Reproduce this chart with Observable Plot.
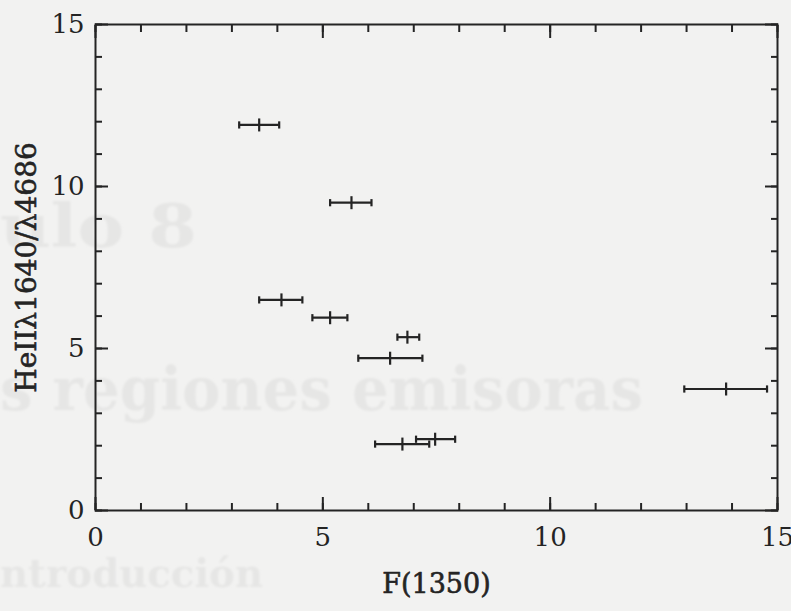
<!DOCTYPE html>
<html>
<head>
<meta charset="utf-8">
<script src="https://cdn.jsdelivr.net/npm/d3@7"></script>
<script src="https://cdn.jsdelivr.net/npm/@observablehq/plot@0.6"></script>
<style>
  html, body { margin: 0; padding: 0; background: #f2f2f1; }
  #wrap { position: relative; width: 791px; height: 611px; overflow: hidden; }
  #ghost, #chart { position: absolute; left: 0; top: 0; }
</style>
</head>
<body>
<div id="wrap">
  <svg id="ghost" width="791" height="611"></svg>
  <div id="chart"></div>
</div>
<script>
// Axis titles and tick positions
const xTitle = "F(1350)";
const yTitle = "HeIIλ1640/λ4686";
const xMajorTicks = [0, 5, 10, 15];
const yMajorTicks = [0, 5, 10, 15];
const minorTicks = d3.range(0, 16);

// Measurements: F(1350) with its lower/upper error limits, and the line ratio
const flux     = [3.60, 5.63, 4.09, 5.16, 6.86, 6.48, 6.75, 7.47, 13.87];
const fluxLow  = [3.16, 5.16, 3.60, 4.77, 6.64, 5.78, 6.15, 7.05, 12.95];
const fluxHigh = [4.04, 6.07, 4.55, 5.54, 7.12, 7.19, 7.34, 7.91, 14.77];
const ratio    = [11.9, 9.5, 6.5, 5.95, 5.35, 4.7, 2.05, 2.2, 3.75];

// Faint print showing through from the facing page
const ghostLines = ["ulo 8", "s regiones emisoras", "ntroducción"];

const rows = flux.map((x, i) => ({x, lo: fluxLow[i], hi: fluxHigh[i], y: ratio[i]}));

const ink = "#242424";
const serif = "DejaVu Serif";

// Short vertical bar used for error-bar caps and the central marker
const vbar = {
  draw(context, size) {
    const h = Math.sqrt(size / Math.PI);
    context.moveTo(0, -h);
    context.lineTo(0, h);
  }
};

// Inward ticks on all four sides
function ticks(axis, anchor, values, size) {
  return axis({anchor, ticks: values, tickSize: -size, tickFormat: () => "",
    label: null, stroke: ink, strokeWidth: 2});
}

// Slightly heavy lettering
const letter = {fill: ink, stroke: ink, strokeWidth: 0.6};

const chart = Plot.plot({
  width: 791,
  height: 611,
  marginLeft: 95,
  marginRight: 14,
  marginTop: 24,
  marginBottom: 101,
  style: {background: "transparent", fontFamily: serif, color: ink},
  x: {domain: [0, 15]},
  y: {domain: [0, 15]},
  marks: [
    ticks(Plot.axisX, "bottom", minorTicks, 7),
    ticks(Plot.axisX, "top", minorTicks, 7),
    ticks(Plot.axisY, "left", minorTicks, 7),
    ticks(Plot.axisY, "right", minorTicks, 7),
    ticks(Plot.axisX, "bottom", xMajorTicks, 13),
    ticks(Plot.axisX, "top", xMajorTicks, 13),
    ticks(Plot.axisY, "left", yMajorTicks, 13),
    ticks(Plot.axisY, "right", yMajorTicks, 13),
    Plot.axisX({anchor: "bottom", ticks: xMajorTicks, tickSize: 0, tickPadding: 17,
      label: null, fontSize: 26, ...letter}),
    Plot.axisY({anchor: "left", ticks: yMajorTicks, tickSize: 0, tickPadding: 11,
      label: null, fontSize: 26, ...letter}),
    Plot.frame({stroke: ink, strokeWidth: 2}),
    Plot.ruleY(rows, {x1: "lo", x2: "hi", y: "y", stroke: ink, strokeWidth: 2.2}),
    Plot.dot(rows, {x: "lo", y: "y", symbol: vbar, r: 3.6, stroke: ink, strokeWidth: 2.2, fill: "none"}),
    Plot.dot(rows, {x: "hi", y: "y", symbol: vbar, r: 3.6, stroke: ink, strokeWidth: 2.2, fill: "none"}),
    Plot.dot(rows, {x: "x", y: "y", symbol: vbar, r: 6.5, stroke: ink, strokeWidth: 2.2, fill: "none"}),
    Plot.text([xTitle], {frameAnchor: "bottom", dy: 82, text: d => d, fontSize: 27,
      textAnchor: "middle", ...letter}),
    Plot.text([yTitle], {frameAnchor: "left", dx: -68, rotate: -90, text: d => d, fontSize: 28,
      textAnchor: "middle", ...letter})
  ]
});
document.getElementById("chart").append(chart);

// Faint bleed-through text behind the plot
const ghost = d3.select("#ghost");
const ghostSpecs = [
  {x: 0, y: 247, len: 197, size: 60},
  {x: 0, y: 410, len: 643, size: 60},
  {x: 0, y: 587, len: 263, size: 40}
];
ghost.append("defs").append("filter").attr("id", "soft")
  .append("feGaussianBlur").attr("stdDeviation", 1.2);
ghost.selectAll("text")
  .data(ghostLines)
  .join("text")
  .attr("x", (d, i) => ghostSpecs[i].x)
  .attr("y", (d, i) => ghostSpecs[i].y)
  .attr("textLength", (d, i) => ghostSpecs[i].len)
  .attr("lengthAdjust", "spacingAndGlyphs")
  .attr("font-family", serif)
  .attr("font-weight", "bold")
  .attr("font-size", (d, i) => ghostSpecs[i].size)
  .attr("fill", "#e6e6e5")
  .attr("filter", "url(#soft)")
  .text(d => d);
</script>
</body>
</html>
